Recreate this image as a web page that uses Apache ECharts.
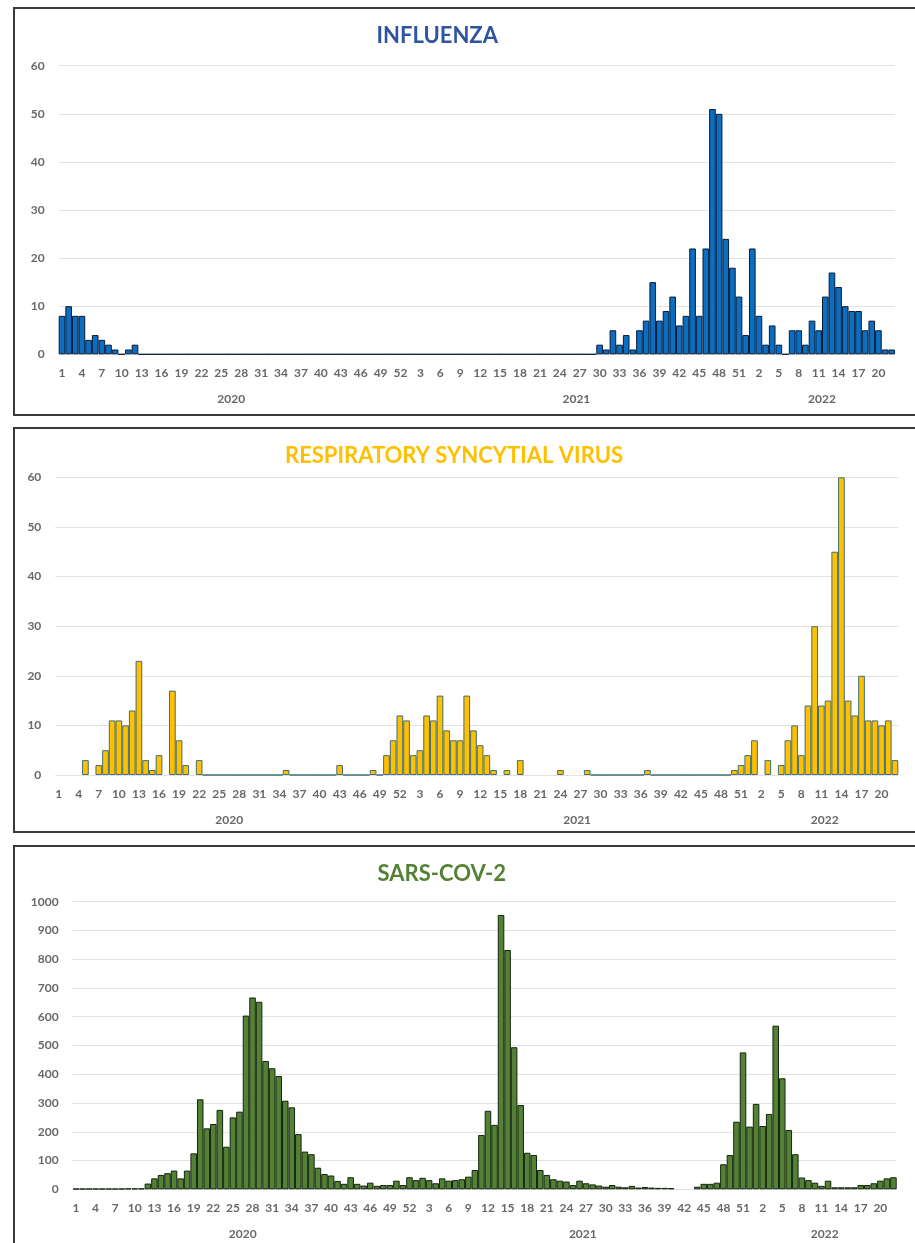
<!DOCTYPE html>
<html><head><meta charset="utf-8">
<script src="https://cdn.jsdelivr.net/npm/echarts@6/dist/echarts.min.js"></script>
<style>
html,body{margin:0;padding:0;background:#fff;width:915px;height:1243px;overflow:hidden;}
.box{position:absolute;border:2px solid #3a3a3a;box-sizing:border-box;}
#chart{position:absolute;left:0;top:0;width:915px;height:1243px;}
</style></head><body>
<div class="box" style="left:13px;top:7px;width:910px;height:409px"></div>
<div class="box" style="left:13px;top:427px;width:910px;height:406px"></div>
<div class="box" style="left:13px;top:845px;width:910px;height:430px"></div>
<div id="chart"></div>
<script>
// ---- data ----
const yearNames = ['2020', '2021', '2022'];
const weeksPerYear = [52, 52, 22];

const flu2020 = [8,10,8,8,3,4,3,2,1,0, 1,2,0,0,0,0,0,0,0,0, 0,0,0,0,0,0,0,0,0,0, 0,0,0,0,0,0,0,0,0,0, 0,0,0,0,0,0,0,0,0,0, 0,0];
const flu2021 = [0,0,0,0,0,0,0,0,0,0, 0,0,0,0,0,0,0,0,0,0, 0,0,0,0,0,0,0,0,0,2, 1,5,2,4,1,5,7,15,7,9, 12,6,8,22,8,22,51,50,24,18, 12,4];
const flu2022 = [22,8,2,6,2,0,5,5,2,7, 5,12,17,14,10,9,9,5,7,5, 1,1];

const rsv2020 = [null,null,null,null,3,null,2,5,11,11, 10,13,23,3,1,4,null,17,7,2, null,3,0,0,0,0,0,0,0,0, 0,0,0,0,1,0,0,0,0,0, 0,0,2,0,0,0,0,1,0,4, 7,12];
const rsv2021 = [11,4,5,12,11,16,9,7,7,16, 9,6,4,1,null,1,null,3,null,null, null,null,null,1,null,null,null,1,0,0, 0,0,0,0,0,0,1,0,0,0, 0,0,0,0,0,0,0,0,0,1, 2,4];
const rsv2022 = [7,null,3,null,2,7,10,4,14,30, 14,15,45,60,15,12,20,11,11,10, 11,3];

const sars2020 = [2,2,2,2,2,2,2,2,3,3, 3,20,38,50,56,65,38,65,125,313, 212,227,276,148,250,270,604,667,652,446, 421,394,308,285,192,131,122,75,53,48, 29,19,42,19,13,23,12,15,15,30, 15,42];
const sars2021 = [32,40,32,21,38,30,32,35,44,67, 189,273,224,954,832,494,293,127,119,67, 50,35,30,27,15,30,21,17,13,9, 15,9,7,12,6,8,6,5,5,4, null,null,null,9,19,19,23,87,119,235, 476,218];
const sars2022 = [297,220,262,569,386,206,122,41,32,23, 12,30,7,7,7,7,15,15,21,30, 38,42];

const panelTitles = ['INFLUENZA', 'RESPIRATORY SYNCYTIAL VIRUS', 'SARS-COV-2'];
const yMax = [60, 60, 1000];
const yStep = [10, 10, 100];

// ---- derived ----
const weekLabels = [];
weeksPerYear.forEach(n => { for (let w = 1; w <= n; w++) weekLabels.push(String(w)); });
const N = weekLabels.length;
const yearCenters = [];
let acc = 0;
weeksPerYear.forEach(n => { yearCenters.push(acc + n / 2); acc += n; });

const seriesData = [
  flu2020.concat(flu2021, flu2022),
  rsv2020.concat(rsv2021, rsv2022),
  sars2020.concat(sars2021, sars2022)
];

// ---- styles ----
const fillColors = ['#0a6fc2', '#ffc000', '#548235'];
const borderColors = ['#0c1a33', '#3f6f78', '#142410'];
const titleColors = ['#2f55a0', '#ffc000', '#548235'];
const grids = [
  {left: 58.7, top: 65.7, width: 836.3, height: 288.6},
  {left: 55.3, top: 477.3, width: 843, height: 297.7},
  {left: 72.7, top: 901.7, width: 824, height: 287.6}
];
const titlePos = [[376.5, 25], [285, 445], [377.5, 862.5]];
const labelFont = {fontFamily: 'Lato', fontSize: 12, fontWeight: 'bold', color: '#686868'};

const chart = echarts.init(document.getElementById('chart'), null, {renderer: 'canvas'});
const option = {
  animation: false,
  backgroundColor: 'transparent',
  title: panelTitles.map((t, i) => ({
    text: t, left: titlePos[i][0], top: titlePos[i][1], padding: 0,
    textStyle: {fontFamily: 'Lato', fontWeight: 'bold', fontSize: 22, color: titleColors[i]}
  })),
  grid: grids.map(g => Object.assign({containLabel: false}, g)),
  xAxis: [0, 1, 2].map(i => ({
    type: 'category', gridIndex: i, data: weekLabels, boundaryGap: true,
    axisLine: {show: false}, axisTick: {show: false}, splitLine: {show: false},
    axisLabel: Object.assign({interval: 2, margin: 13}, labelFont)
  })).concat([0, 1, 2].map(i => ({
    type: 'value', gridIndex: i, min: 0, max: N, position: 'bottom', offset: 26,
    axisLine: {show: false}, axisTick: {show: false}, splitLine: {show: false},
    axisLabel: Object.assign({
      customValues: yearCenters, margin: 13,
      formatter: v => { const k = yearCenters.indexOf(v); return k >= 0 ? yearNames[k] : ''; }
    }, labelFont)
  }))),
  yAxis: [0, 1, 2].map(i => ({
    type: 'value', gridIndex: i, min: 0, max: yMax[i], interval: yStep[i],
    axisLine: {show: false}, axisTick: {show: false},
    splitLine: {lineStyle: {color: '#e2e2e2', width: 1}},
    axisLabel: Object.assign({margin: 14, formatter: v => String(v)}, labelFont)
  })),
  series: [0, 1, 2].map(i => ({
    type: 'bar', xAxisIndex: i, yAxisIndex: i, data: seriesData[i],
    barCategoryGap: '0%', silent: true,
    itemStyle: {color: fillColors[i], borderColor: borderColors[i], borderWidth: 1}
  }))
};
chart.setOption(option);
</script>
</body></html>
